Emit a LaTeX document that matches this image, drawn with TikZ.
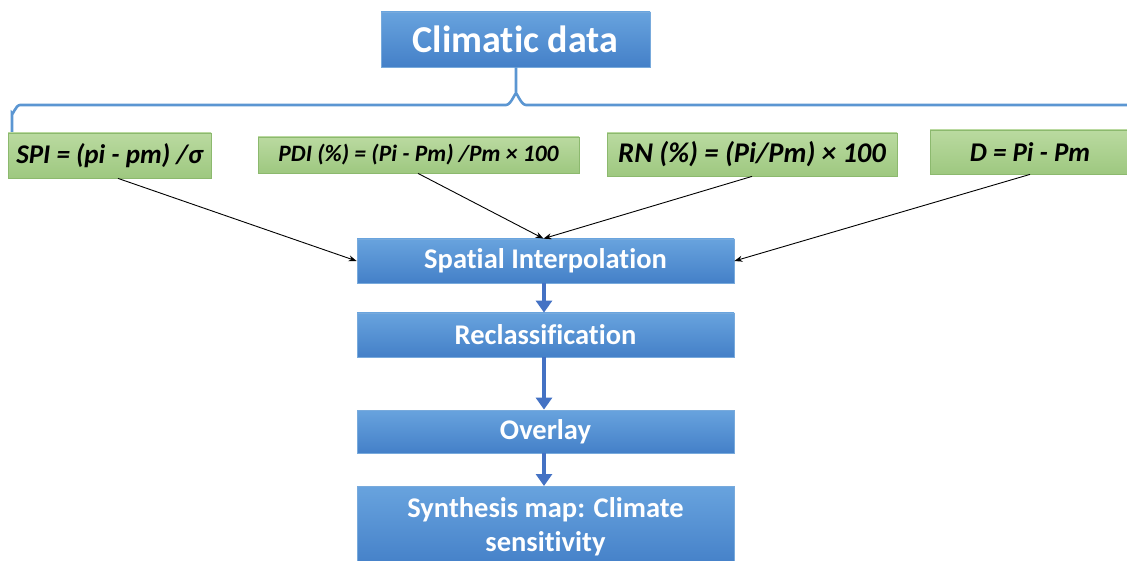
\documentclass[tikz,border=0pt]{standalone}
\usepackage{fontspec}
\setmainfont{Carlito}[Ligatures=NoCommon]
\usetikzlibrary{arrows.meta}
\definecolor{bluetop}{RGB}{104,163,222}
\definecolor{bluebot}{RGB}{68,128,200}
\definecolor{blueline}{RGB}{120,170,220}
\definecolor{bracecol}{RGB}{91,150,210}
\definecolor{greentop}{RGB}{186,218,160}
\definecolor{greenbot}{RGB}{158,200,128}
\definecolor{greenline}{RGB}{140,185,110}
\definecolor{arrowblue}{RGB}{68,114,196}
\tikzset{
  bluebox/.style={draw=blueline, line width=0.8pt, top color=bluetop, bottom color=bluebot,
    text=white, font=\bfseries, inner sep=0pt, align=center},
  greenbox/.style={draw=greenline, line width=0.8pt, top color=greentop, bottom color=greenbot,
    text=black, font=\bfseries\itshape, inner sep=0pt},
  blk/.style={-{Stealth[length=8pt,width=6pt]}, line width=0.9pt, black},
  bluearrow/.style={-{Triangle[length=12pt,width=16pt]}, line width=4pt, arrowblue, shorten >=0pt},
}
\begin{document}
\begin{tikzpicture}[x=1pt,y=-1pt]
\useasboundingbox (0,0) rectangle (1127,561);
\clip (0,0) rectangle (1127,561);
% top box
\node[bluebox, minimum width=269pt, minimum height=55pt, font=\bfseries\fontsize{38}{42}\selectfont] (climatic) at (515.5,39.5) {Climatic data};
% brace
\draw[bracecol, line width=2.6pt] (12,132) -- (12,113) to[out=-90,in=180] (20,105) -- (506,105)
  to[out=0,in=90] (516,95) -- (climatic.south -| 516,0);
\draw[bracecol, line width=2.6pt] (516,95) to[out=90,in=180] (526,105) -- (1130,105);
% green boxes
\node[greenbox, minimum width=203pt, minimum height=45pt, font=\bfseries\itshape\fontsize{27}{30}\selectfont] (spi) at (109.5,155.5) {SPI = (pi - pm) /σ};
\node[greenbox, minimum width=321pt, minimum height=36pt, font=\bfseries\itshape\fontsize{23.5}{26}\selectfont] (pdi) at (418.5,155) {PDI (\%) = (Pi - Pm) /Pm × 100};
\node[greenbox, minimum width=290pt, minimum height=43pt, font=\bfseries\itshape\fontsize{28.5}{32}\selectfont] (rn) at (752,154.5) {RN (\%) = (Pi/Pm) × 100};
\node[greenbox, minimum width=200pt, minimum height=44pt, font=\bfseries\itshape\fontsize{27}{30}\selectfont] (d) at (1030,152) {D = Pi - Pm};
% process boxes
\node[bluebox, minimum width=377pt, minimum height=44pt, font=\bfseries\fontsize{28.5}{32}\selectfont] (interp) at (545.5,261) {Spatial Interpolation};
\node[bluebox, minimum width=377pt, minimum height=44pt, font=\bfseries\fontsize{28.5}{32}\selectfont] (reclass) at (545.5,335) {Reclassification};
\node[bluebox, minimum width=377pt, minimum height=43pt, font=\bfseries\fontsize{28.5}{32}\selectfont] (overlay) at (545.5,431.5) {Overlay};
\node[bluebox, minimum width=377pt, minimum height=80pt, font=\bfseries\fontsize{28.5}{34}\selectfont, anchor=north] (synth) at (545.5,486) {Synthesis map: Climate\\sensitivity};
% black arrows
\draw[blk] (spi.south -| 118,0) -- (interp.west);
\draw[blk] (pdi.south -| 418,0) -- ([xshift=-2pt]interp.north);
\draw[blk] (rn.south -| 752,0) -- ([xshift=-2pt]interp.north);
\draw[blk] (d.south -| 1030,0) -- (interp.east);
% blue arrows
\draw[bluearrow] (interp.south -| 544,0) -- (reclass.north -| 544,0);
\draw[bluearrow] (reclass.south -| 544,0) -- (overlay.north -| 544,0);
\draw[bluearrow] (overlay.south -| 544,0) -- (synth.north -| 544,0);
\end{tikzpicture}
\end{document}
